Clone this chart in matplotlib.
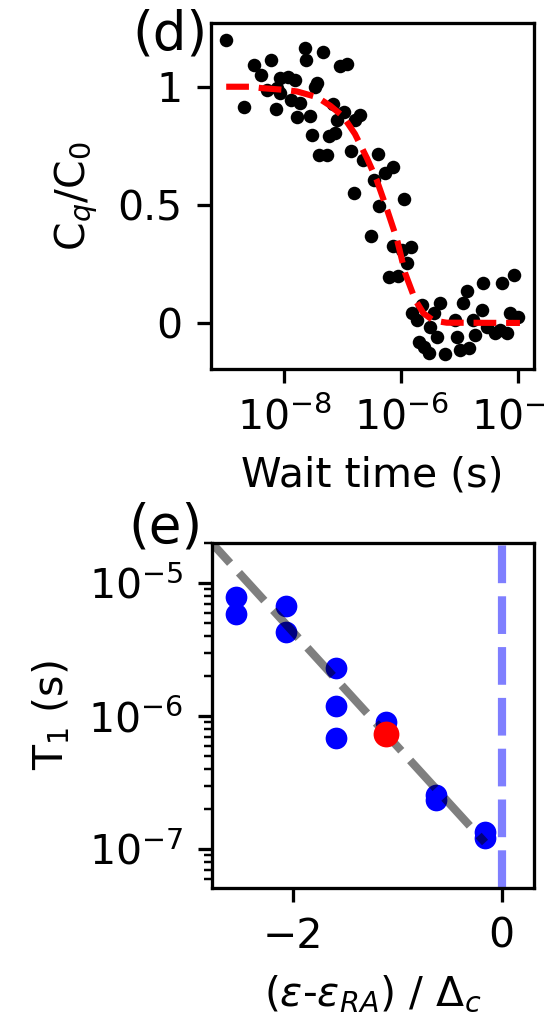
import numpy as np
import matplotlib
matplotlib.use('Agg')
import matplotlib.pyplot as plt
from matplotlib.ticker import NullLocator

# Panel (d): normalised coherence vs wait time
wait_time = [1.02e-9, 2.02e-9, 2.99e-9, 4.05e-9, 6.0e-9, 5.06e-9, 7.3e-9, 8.55e-9,
             1.14e-8, 1.54e-8, 8.55e-9, 1.30e-8, 1.83e-8, 2.23e-8, 2.38e-8, 4.58e-8,
             3.61e-8, 3.39e-8, 1.65e-8, 2.71e-8, 2.97e-8, 3.86e-8, 5.36e-8, 6.79e-8,
             1.06e-7, 7.94e-8, 5.73e-8, 7.45e-8, 9.06e-8, 1.18e-7, 1.94e-7, 1.64e-7,
             1.38e-7, 2.21e-7, 3.94e-7, 3.37e-7, 5.32e-7, 7.21e-7, 1.53e-7, 4.10e-7,
             1.12e-6, 3.03e-7, 7.21e-7, 1.03e-6, 1.46e-6, 1.25e-6, 6.07e-7, 8.99e-7,
             1.52e-6, 1.85e-6, 2.25e-6, 3.57e-6, 4.52e-6, 3.13e-6, 4.07e-6, 1.98e-6,
             2.93e-6, 5.65e-6, 8.95e-6, 8.38e-6, 1.02e-5, 1.42e-5, 1.16e-5, 1.33e-5,
             2.39e-5, 2.55e-5, 1.84e-5, 1.72e-5, 2.91e-5, 4.05e-5, 5.26e-5, 8.32e-5,
             6.40e-5, 7.29e-5, 1.01e-4, 4.92e-5, 2.41e-6, 7.5e-9]
coherence = [1.199, 0.914, 1.093, 1.051, 1.114, 0.987, 0.905, 1.037,
             1.041, 1.030, 0.973, 0.945, 0.931, 1.164, 1.112, 1.145,
             1.016, 0.999, 0.871, 0.874, 0.797, 0.712, 0.712, 0.928,
             0.891, 0.860, 0.790, 0.804, 1.086, 1.096, 0.881, 0.860,
             0.726, 0.691, 0.716, 0.606, 0.634, 0.662, 0.549, 0.493,
             0.524, 0.366, 0.326, 0.309, 0.323, 0.253, 0.196, 0.199,
             0.041, 0.013, 0.076, 0.041, 0.083, -0.016, -0.058, -0.079,
             -0.129, -0.131, -0.061, 0.013, -0.114, -0.107, 0.083, 0.137,
             0.055, 0.168, -0.051, 0.013, -0.016, -0.044, 0.168, 0.203,
             -0.044, 0.041, 0.027, -0.030, -0.100, 0.994]

# fit curve
fit_time = [1.02e-9, 2.63e-9, 4.17e-9, 9.77e-9, 1.66e-8, 3.63e-8, 6.17e-8, 1.02e-7,
            1.62e-7, 2.57e-7, 3.80e-7, 5.75e-7, 8.51e-7, 1.17e-6, 1.74e-6, 2.40e-6,
            3.55e-6, 6.03e-6, 1.07e-4]
fit_coh = [1.0, 1.0, 0.994, 0.987, 0.98, 0.956, 0.919, 0.874,
           0.80, 0.70, 0.606, 0.479, 0.352, 0.21, 0.097, 0.041,
           0.01, 0.001, 0.0]

# Panel (e): T1 vs detuning
detuning = [-2.548, -2.548, -2.067, -2.067, -1.592, -1.592, -1.592, -1.113,
            -0.632, -0.632, -0.156, -0.156]
t1 = [7.8e-6, 5.9e-6, 6.7e-6, 4.3e-6, 2.28e-6, 1.2e-6, 6.9e-7, 9.06e-7,
      2.55e-7, 2.34e-7, 1.35e-7, 1.22e-7]
highlight_detuning = [-1.113]
highlight_t1 = [7.3e-7]
trend_detuning = [-2.85, -0.16]
trend_t1 = [2.29e-5, 1.12e-7]

dpi = 295
fig = plt.figure(figsize=(544 / dpi, 1025 / dpi), dpi=dpi)

# --- (d)
ax1 = fig.add_axes([0.388, 0.640, 0.5936, 0.3376])
ax1.plot(wait_time, coherence, 'o', color='k', ms=3.3, mew=0)
ax1.plot(fit_time, fit_coh, 'r--', lw=1.5)
ax1.set_xscale('log')
ax1.set_xlim(10**-9.25, 10**-3.73)
ax1.set_ylim(-0.195, 1.27)
ax1.set_xticks([1e-8, 1e-6, 1e-4])
ax1.xaxis.set_minor_locator(NullLocator())
ax1.set_yticks([0, 0.5, 1], ['0', '0.5', '1'])
ax1.set_xlabel('Wait time (s)')
ax1.set_ylabel(r'C$_q$/C$_0$')
ax1.text(-0.01, 0.968, '(d)', transform=ax1.transAxes, ha='right', va='center',
         fontsize=13)

# --- (e)
ax2 = fig.add_axes([0.3897, 0.1337, 0.5919, 0.3365])
ax2.plot(detuning, t1, 'o', color='b', ms=5.3, mew=0)
ax2.plot(trend_detuning, trend_t1, color='k', ls=(0, (4.6, 1.6)), lw=2, alpha=0.5)
ax2.plot(highlight_detuning, highlight_t1, 'o', color='r', ms=6.3, mew=0)
ax2.axvline(0, color='b', ls=(0, (4.6, 1.6)), lw=2, alpha=0.5)
ax2.set_yscale('log')
ax2.set_xlim(-2.78, 0.31)
ax2.set_ylim(5.1e-8, 2.0e-5)
ax2.set_xticks([-2, 0])
ax2.set_xlabel(r'($\varepsilon$-$\varepsilon_{RA}$) / $\Delta_c$')
ax2.set_ylabel(r'T$_1$ (s)')
ax2.text(-0.03, 1.046, '(e)', transform=ax2.transAxes, ha='right', va='center',
         fontsize=13)

fig.savefig('out.png', dpi=dpi)
